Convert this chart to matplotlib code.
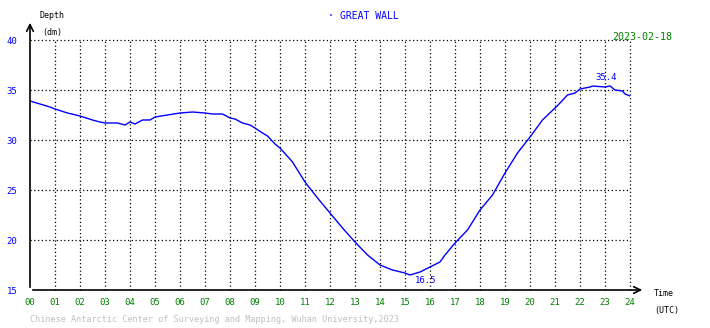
import matplotlib
matplotlib.use("Agg")
import matplotlib.pyplot as plt

# Data (hour UTC, depth in dm)
hours = [0, 0.4, 0.8, 1, 1.5, 2, 2.5, 2.8, 3, 3.5, 3.8, 4, 4.2, 4.5, 4.8, 5, 5.5, 6, 6.5, 7, 7.3, 7.7,
         8, 8.2, 8.5, 8.8, 9, 9.3, 9.5, 9.8, 10, 10.5, 11, 11.5, 12, 12.5, 13, 13.5, 14, 14.5,
         15, 15.2, 15.6, 16, 16.4, 16.6, 17, 17.5, 18, 18.5, 19, 19.5, 20, 20.5, 21, 21.2,
         21.5, 21.8, 22, 22.4, 22.5, 23, 23.2, 23.4, 23.7, 23.8, 24]
depth = [33.9, 33.6, 33.3, 33.1, 32.7, 32.4, 32.0, 31.8, 31.7, 31.7, 31.5, 31.8, 31.6, 32.0, 32.0,
         32.3, 32.5, 32.7, 32.8, 32.7, 32.6, 32.6, 32.2, 32.1, 31.7, 31.5, 31.2, 30.7, 30.4,
         29.6, 29.2, 27.8, 25.8, 24.2, 22.7, 21.2, 19.8, 18.5, 17.5, 17.0, 16.7, 16.5, 16.8,
         17.3, 17.8, 18.5, 19.7, 21.0, 23.0, 24.5, 26.7, 28.7, 30.3, 32.0, 33.2, 33.7, 34.5,
         34.7, 35.1, 35.3, 35.4, 35.3, 35.4, 35.0, 34.9, 34.6, 34.4]
x_ticks = list(range(0, 25))
x_labels = ["%02d" % h for h in x_ticks]
y_ticks = [15, 20, 25, 30, 35, 40]
max_label = "35.4"
min_label = "16.5"
station = "GREAT WALL"
date_text = "2023-02-18"
footer = "Chinese Antarctic Center of Surveying and Mapping, Wuhan University,2023"

W, H = 710, 328
fig = plt.figure(figsize=(W / 100, H / 100), dpi=100)
fig.patch.set_facecolor("white")
ax = fig.add_axes([30 / W, 1 - 290 / H, 600 / W, 250 / H])
ax.set_xlim(0, 24)
ax.set_ylim(15, 40)
for s in ["top", "right", "left", "bottom"]:
    ax.spines[s].set_visible(False)

mono = "DejaVu Sans Mono"
# grid
for xv in x_ticks[1:]:
    ax.axvline(xv, color="black", lw=0.9, ls=(0, (1, 2)), zorder=1, clip_on=False)
for yv in y_ticks[1:]:
    ax.axhline(yv, color="black", lw=0.9, ls=(0, (1, 2)), zorder=1, clip_on=False)

ax.plot(hours, depth, color="#0000ff", lw=1.0, zorder=3)

ax.set_xticks(x_ticks)
ax.set_xticklabels(x_labels, fontfamily=mono, fontsize=6.5, color="#008000")
ax.set_yticks(y_ticks)
ax.set_yticklabels([str(v) for v in y_ticks], fontfamily=mono, fontsize=6.5, color="#0000ff")
ax.tick_params(axis="both", length=0, pad=6)
ax.tick_params(axis="y", pad=9)

# axes with arrows
ax.annotate("", xy=(0, 1.08), xytext=(0, 0), xycoords="axes fraction",
            arrowprops=dict(arrowstyle="->", color="black", lw=1.2, mutation_scale=12), annotation_clip=False)
ax.annotate("", xy=(1.025, 0), xytext=(0, 0), xycoords="axes fraction",
            arrowprops=dict(arrowstyle="->", color="black", lw=1.2, mutation_scale=12), annotation_clip=False)

# labels on curve
i_max = depth.index(max(depth))
i_min = depth.index(min(depth))
ax.text(hours[i_max] + 0.1, depth[i_max] + 0.4, max_label, fontfamily=mono, fontsize=6.5, color="#0000ff", ha="left", va="bottom")
ax.text(hours[i_min] + 0.2, depth[i_min] - 0.1, min_label, fontfamily=mono, fontsize=6.5, color="#0000ff", ha="left", va="top")

# figure texts
fig.text(40 / W, 1 - 15 / H, "Depth", fontfamily=mono, fontsize=6, color="black", ha="left", va="center")
fig.text(42 / W, 1 - 33 / H, "(dm)", fontfamily=mono, fontsize=6, color="black", ha="left", va="center")
fig.text(654 / W, 1 - 294 / H, "Time", fontfamily=mono, fontsize=6, color="black", ha="left", va="center")
fig.text(654 / W, 1 - 310 / H, "(UTC)", fontfamily=mono, fontsize=6, color="black", ha="left", va="center")
fig.text(328 / W, 1 - 16 / H, "·", fontfamily=mono, fontsize=7, color="#0000ff", ha="left", va="center")
fig.text(340 / W, 1 - 16 / H, station, fontfamily=mono, fontsize=7, color="#0000ff", ha="left", va="center")
fig.text(612 / W, 1 - 37 / H, date_text, fontfamily=mono, fontsize=7.2, color="#008000", ha="left", va="center")
fig.text(30 / W, 1 - 320 / H, footer, fontfamily=mono, fontsize=6.1, color="#c0c0c0", ha="left", va="center")

fig.savefig("out.png", dpi=100, facecolor="white")
